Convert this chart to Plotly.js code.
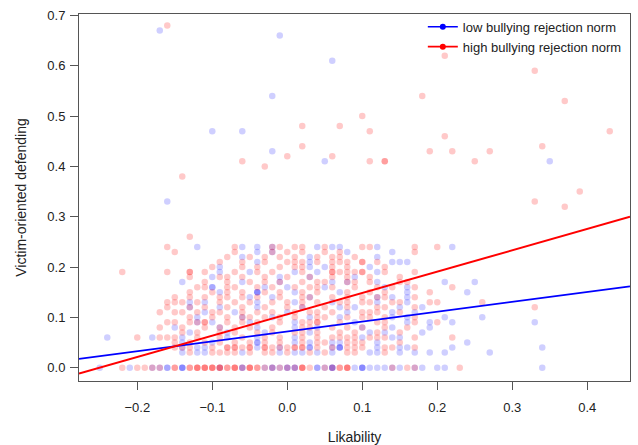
<!DOCTYPE html>
<html><head><meta charset="utf-8">
<script src="https://cdn.plot.ly/plotly-3.0.1.min.js"></script>
<style>html,body{margin:0;padding:0;background:#fff}#chart{width:638px;height:445px}</style>
</head><body><div id="chart"></div>
<script>
// ---- data ----
const seriesNames = ['low bullying rejection norm', 'high bullying rejection norm'];
const xTitle = 'Likability';
const yTitle = 'Victim-oriented defending';
const xTicks = [-0.2, -0.1, 0.0, 0.1, 0.2, 0.3, 0.4];
const yTicks = [0.0, 0.1, 0.2, 0.3, 0.4, 0.5, 0.6, 0.7];

// y level of each row of the dense cloud
const rowLevels = [0.00, 0.03, 0.04, 0.05, 0.06, 0.07, 0.08, 0.09, 0.10, 0.11, 0.12, 0.13,
                   0.14, 0.15, 0.16, 0.17, 0.18, 0.19, 0.20, 0.21, 0.22, 0.23, 0.24, 0.26];
// likability values (in hundredths) of the points on each row, high norm group
const highRowX = [
  [-22,-20,-19,-18,-17,-15,-15,-13,-13,-12,-12,-12,-11,-11,-11,-10,-10,-10,-9,-9,-9,-8,-8,-7,-7,-7,-6,-5,-5,-5,-4,-4,-3,-2,-1,0,1,2,2,2,3,5,6,7,7,8,8,8,14,16,17,23],
  [-13,-10,-9,-8,-7,-5,-3,-2,0,3,5,8,9,13],
  [-15,-14,-13,-10,-8,-8,-7,-7,-6,-5,-5,-3,-3,-2,-1,0,1,1,2,2,4,6,8,9,10,13,14,17],
  [-15,-13,-11,-9,-7,-5,-3,-1,2,4,5,8,9,10,15],
  [-20,-17,-16,-15,-12,-9,-6,-3,-1,2,4,6,7,8,9,11,12,13,17,22],
  [-14,-12,-9,-7,-4,-2,1,2,4,7,9,12,15],
  [-17,-14,-11,-9,-7,-5,-2,2,3,6,8,10,13,16],
  [-16,-15,-13,-12,-11,-11,-8,-6,-4,-1,2,3,4,4,7,12,13,17,20],
  [-13,-10,-8,-6,-5,-3,-1,1,4,5,8,10,11,13,17],
  [-17,-15,-14,-12,-10,-9,-6,-4,-2,1,3,4,6,10,11,12,15],
  [-16,-13,-11,-8,-6,-3,0,2,5,8,12,13,17,33],
  [-16,-15,-14,-12,-9,-7,-5,-2,0,2,4,7,8,10,11,14,15,19,20,26],
  [-15,-13,-11,-9,-8,-6,-4,-1,2,3,6,8,10,12,13,17],
  [-13,-10,-8,-6,-3,-1,2,4,8,11,13,19],
  [-12,-11,-8,-7,-4,-2,1,3,4,6,9,12,14,17,22],
  [-11,-8,-5,-3,-1,2,4,5,8,9,11,15,16],
  [-13,-9,-8,-6,-3,0,3,6,8,11,15],
  [-22,-16,-13,-13,-11,-7,-4,-2,2,6,6,7,8,9,10,10,13,17],
  [-10,-6,-4,-1,1,2,6,8,13],
  [-9,-6,-3,0,1,2,4,6,7,8,10,10,12],
  [-8,-5,-3,-1,1,4,6,7,9],
  [-15,-7,-2,0,2,5,7,17],
  [-16,-7,-2,-1,1,2,5,10,11,17,20],
  [-13]
];
// likability values (in hundredths) of the points on each row, low norm group
const lowRowX = [
  [-25,-21,-18,-17,-16,-16,-14,-14,-14,-9,-6,-6,-3,-2,-2,-1,0,0,1,1,4,4,5,6,6,6,9,10,10,10,11,12,13,14,15,17,18,20,21,34],
  [-14,-12,-11,-6,-1,1,2,4,6,11,12,15,17,19,21,27],
  [-14,-12,-11,-4,-1,3,3,6,7,7,7,12,15,16,22,34],
  [-14,-10,-4,-4,1,3,6,7,12,24],
  [-24,-18,-14,-8,-4,1,10,14,15],
  [-13,-8,-3,3,11,13,18],
  [-15,-9,-4,1,4,10,14,19],
  [-12,-10,-5,1,9,16,19,22,33],
  [-12,-6,-2,3,7,14,16,21,26],
  [-11,-7,0,8,14,17],
  [-13,-9,-4,2,7,9,15,18],
  [-13,-11,-4,1,6,12,16],
  [-5,-2,3,12,14,16],
  [-9,-4,-4,-4,1,7,16,24],
  [-10,-10,-3,0,5,13,16],
  [-14,-6,-1,6,8,12,21,25],
  [-10,-1,3,9],
  [-9,-5,1,4,12],
  [-9,3,5,11],
  [-4,3,14,15,16],
  [-6,3,12],
  [-4,-2,8,14],
  [-12,-6,-4,-2,4,6,7,12,22],
  []
];
// scattered points above the cloud
const highOutX = [-0.16, 0.21, 0.33, 0.18, 0.37, 0.10, 0.02, 0.07, 0.11, 0.21, 0.43, 0.02, 0.19, 0.22, 0.27, 0.34, -0.06, 0.00, 0.06, 0.11, 0.13, 0.13, 0.25, -0.03, -0.14, 0.33, 0.37, 0.39];
const highOutY = [0.68, 0.62, 0.59, 0.54, 0.53, 0.50, 0.48, 0.48, 0.47, 0.46, 0.47, 0.44, 0.43, 0.43, 0.43, 0.44, 0.41, 0.42, 0.42, 0.41, 0.41, 0.41, 0.41, 0.40, 0.38, 0.33, 0.32, 0.35];
const lowOutX = [-0.17, -0.01, 0.06, -0.02, -0.10, -0.06, -0.02, 0.05, 0.35, -0.16];
const lowOutY = [0.67, 0.66, 0.61, 0.54, 0.47, 0.47, 0.43, 0.41, 0.41, 0.33];
// fitted regression lines: [intercept, slope]
const lowFit = [0.072, 0.196];
const highFit = [0.106, 0.424];

// ---- build ----
const xRange = [-0.2777, 0.457];
const yRange = [-0.0265, 0.7028];
function collect(rows, outX, outY) {
  const xs = [], ys = [];
  rows.forEach((r, i) => r.forEach(v => { xs.push(v / 100); ys.push(rowLevels[i]); }));
  outX.forEach((v, i) => { xs.push(v); ys.push(outY[i]); });
  return {xs, ys};
}
const low = collect(lowRowX, lowOutX, lowOutY);
const high = collect(highRowX, highOutX, highOutY);
const BLUE = '#0000FF', RED = '#FF0000';
const fitLine = f => ({x: xRange, y: xRange.map(x => f[0] + f[1] * x)});

const traces = [
  {type: 'scatter', mode: 'markers', x: low.xs, y: low.ys, showlegend: false, hoverinfo: 'skip',
   marker: {color: BLUE, opacity: 0.19, size: 6.5, line: {width: 0}}},
  {type: 'scatter', mode: 'markers', x: high.xs, y: high.ys, showlegend: false, hoverinfo: 'skip',
   marker: {color: RED, opacity: 0.21, size: 6.5, line: {width: 0}}},
  Object.assign({type: 'scatter', mode: 'lines', showlegend: false, line: {color: BLUE, width: 1.7}}, fitLine(lowFit)),
  Object.assign({type: 'scatter', mode: 'lines', showlegend: false, line: {color: RED, width: 2}}, fitLine(highFit)),
  {type: 'scatter', mode: 'lines+markers', x: [null], y: [null], name: seriesNames[0],
   line: {color: BLUE, width: 1.7}, marker: {color: BLUE, size: 6}},
  {type: 'scatter', mode: 'lines+markers', x: [null], y: [null], name: seriesNames[1],
   line: {color: RED, width: 1.7}, marker: {color: RED, size: 6}}
];

const axisCommon = {
  showgrid: false, zeroline: false, showline: true, mirror: true,
  linecolor: '#555', linewidth: 1, ticks: 'outside', ticklen: 8, tickcolor: '#555', tickwidth: 1,
  tickformat: '.1f', tickfont: {family: 'Liberation Sans, Arial, sans-serif', size: 13, color: '#222'},
  fixedrange: true
};
const layout = {
  width: 638, height: 445,
  margin: {l: 79, r: 8, t: 14, b: 64},
  paper_bgcolor: '#fff', plot_bgcolor: '#fff',
  font: {family: 'Liberation Sans, Arial, sans-serif', color: '#222'},
  xaxis: Object.assign({}, axisCommon, {range: xRange, tickvals: xTicks, ticklabelstandoff: 6,
    title: {text: xTitle, font: {size: 14, color: '#222'}, standoff: 19}}),
  yaxis: Object.assign({}, axisCommon, {range: yRange, tickvals: yTicks, ticklabelstandoff: 2,
    title: {text: yTitle, font: {size: 14, color: '#222'}, standoff: 17}}),
  legend: {x: 0.624, y: 1.006, xanchor: 'left', yanchor: 'top', bgcolor: 'rgba(0,0,0,0)',
    font: {size: 13, color: '#222'}, tracegroupgap: 0},
  showlegend: true
};
Plotly.newPlot('chart', traces, layout, {staticPlot: true, displayModeBar: false});
</script>
</body></html>
